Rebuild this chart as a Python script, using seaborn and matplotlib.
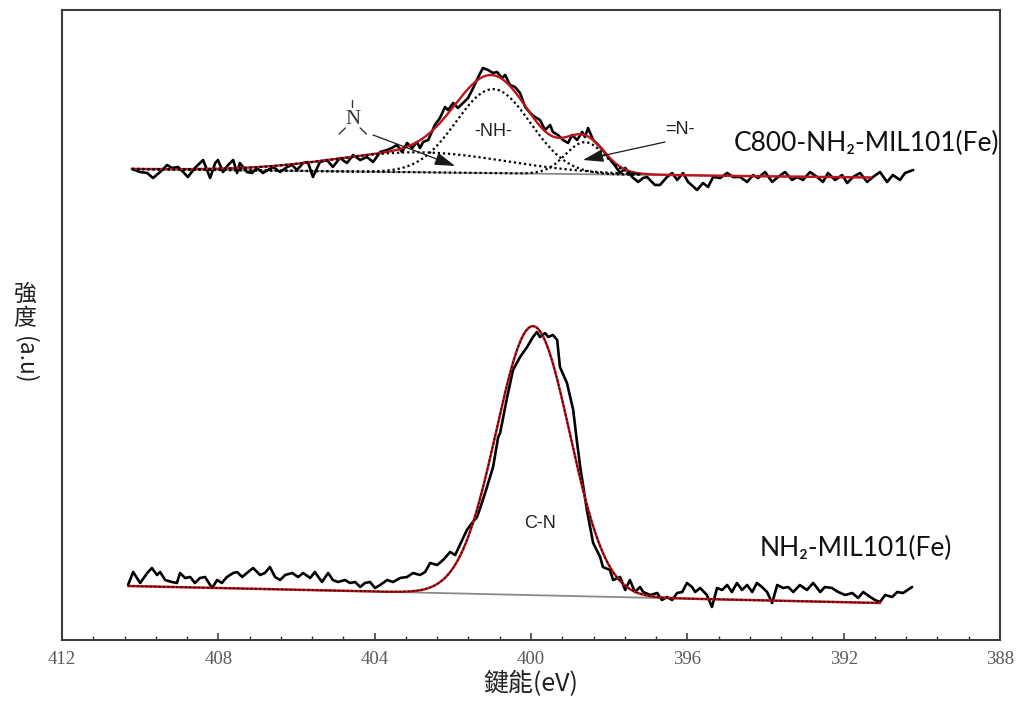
import numpy as np
import pandas as pd
import matplotlib
matplotlib.use("Agg")
import matplotlib.pyplot as plt
from matplotlib.ticker import MultipleLocator
import seaborn as sns

# ---- N 1s spectrum of C800-NH2-MIL101(Fe): binding energy (eV) / intensity (a.u.)
top_energy = [
    410.21, 410.00, 409.82, 409.67, 409.49, 409.31, 409.19, 409.03, 408.90, 408.78,
    408.60, 408.39, 408.21, 408.08, 408.01, 407.88, 407.75, 407.62, 407.52, 407.45,
    407.27, 407.14, 407.01, 406.86, 406.73, 406.60, 406.42, 406.24, 406.11, 405.99,
    405.83, 405.71, 405.58, 405.40, 405.22, 405.07, 404.89, 404.71, 404.55, 404.37,
    404.20, 404.04, 403.86, 403.68, 403.56, 403.43, 403.30, 403.17, 403.04, 402.92,
    402.84, 402.76, 402.63, 402.46, 402.33, 402.20, 402.12, 401.99, 401.87, 401.74,
    401.61, 401.48, 401.35, 401.23, 401.10, 400.97, 400.87, 400.74, 400.66, 400.54,
    400.41, 400.28, 400.15, 400.02, 399.90, 399.77, 399.64, 399.51, 399.44, 399.31,
    399.18, 399.05, 398.95, 398.82, 398.69, 398.62, 398.54, 398.41, 398.28, 398.16,
    398.03, 397.90, 397.72, 397.59, 397.41, 397.26, 397.13, 397.03, 396.83, 396.70,
    396.52, 396.39, 396.26, 396.11, 395.98, 395.75, 395.60, 395.47, 395.34, 395.16,
    394.98, 394.83, 394.65, 394.47, 394.32, 394.19, 394.01, 393.83, 393.68, 393.50,
    393.32, 393.19, 393.04, 392.86, 392.68, 392.53, 392.40, 392.22, 392.04, 391.91,
    391.76, 391.58, 391.40, 391.25, 391.07, 390.89, 390.74, 390.56, 390.43, 390.22,
]
top_counts = [
    471, 468, 467, 462, 468, 475, 472, 473, 468, 463,
    472, 480, 462, 477, 480, 468, 475, 480, 467, 477,
    468, 467, 472, 467, 470, 473, 468, 473, 475, 470,
    477, 478, 463, 478, 480, 473, 482, 477, 485, 480,
    483, 478, 488, 490, 492, 495, 488, 497, 492, 498,
    492, 498, 500, 515, 522, 533, 530, 537, 532, 537,
    542, 552, 563, 572, 570, 567, 568, 562, 565, 555,
    553, 547, 533, 527, 523, 520, 510, 515, 508, 505,
    500, 497, 505, 500, 508, 503, 512, 500, 495, 490,
    483, 477, 467, 472, 463, 458, 462, 463, 455, 455,
    463, 467, 460, 467, 458, 450, 457, 453, 463, 462,
    467, 463, 463, 458, 465, 462, 468, 458, 463, 468,
    460, 463, 460, 468, 463, 458, 467, 460, 465, 457,
    463, 467, 458, 463, 468, 458, 465, 460, 467, 470,
]

# ---- N 1s spectrum of NH2-MIL101(Fe)
bottom_energy = [
    410.31, 410.18, 410.00, 409.82, 409.70, 409.57, 409.49, 409.36, 409.19, 409.06,
    408.98, 408.85, 408.72, 408.60, 408.47, 408.34, 408.16, 408.03, 407.91, 407.78,
    407.62, 407.52, 407.39, 407.27, 407.11, 406.93, 406.81, 406.68, 406.55, 406.42,
    406.29, 406.11, 405.96, 405.83, 405.65, 405.53, 405.35, 405.19, 405.07, 404.94,
    404.76, 404.63, 404.50, 404.37, 404.25, 404.12, 403.99, 403.86, 403.68, 403.53,
    403.35, 403.17, 403.02, 402.84, 402.71, 402.58, 402.40, 402.25, 402.07, 401.94,
    401.82, 401.64, 401.51, 401.38, 401.30, 401.15, 400.97, 400.84, 400.79, 400.61,
    400.46, 400.28, 400.10, 399.95, 399.85, 399.77, 399.64, 399.56, 399.44, 399.33,
    399.26, 399.08, 398.92, 398.82, 398.74, 398.57, 398.41, 398.23, 398.16, 397.98,
    397.90, 397.72, 397.59, 397.47, 397.34, 397.21, 397.13, 396.95, 396.77, 396.65,
    396.52, 396.39, 396.26, 396.13, 396.01, 395.88, 395.80, 395.67, 395.50, 395.37,
    395.24, 395.11, 394.98, 394.86, 394.73, 394.60, 394.47, 394.34, 394.22, 394.09,
    393.96, 393.83, 393.70, 393.55, 393.42, 393.29, 393.12, 392.94, 392.78, 392.60,
    392.48, 392.30, 392.14, 391.96, 391.78, 391.63, 391.50, 391.32, 391.20, 391.07,
    390.94, 390.76, 390.63, 390.48, 390.25,
]
bottom_counts = [
    55, 68, 57, 67, 72, 65, 68, 60, 58, 57,
    67, 62, 63, 57, 62, 63, 52, 60, 57, 63,
    67, 68, 63, 67, 72, 65, 67, 73, 63, 60,
    65, 67, 63, 67, 62, 68, 58, 67, 60, 58,
    60, 57, 58, 53, 57, 58, 52, 55, 60, 58,
    62, 63, 67, 65, 68, 77, 75, 80, 88, 85,
    95, 110, 117, 123, 132, 150, 173, 203, 207, 243,
    270, 283, 293, 303, 308, 303, 307, 303, 305, 300,
    273, 257, 230, 197, 173, 130, 97, 83, 73, 70,
    60, 63, 50, 60, 48, 53, 48, 45, 47, 40,
    43, 40, 47, 48, 57, 53, 48, 52, 45, 33,
    52, 50, 55, 48, 57, 50, 55, 48, 57, 53,
    48, 37, 55, 52, 53, 48, 55, 50, 57, 48,
    53, 52, 48, 45, 47, 42, 48, 43, 40, 38,
    45, 43, 48, 47, 53,
]

# ---- peak-fit results: Gaussian components (centre eV, height, sigma eV)
top_centers = [402.84, 400.97, 398.62]
top_heights = [20.0, 84.0, 32.0]
top_sigmas = [2.2, 0.95, 0.5]
top_bg_energy = [410.21, 391.30]
top_bg_level = [471.0, 462.5]
top_component_end = 397.2

bottom_centers = [399.95]
bottom_heights = [269.0]
bottom_sigmas = [0.94]
bottom_bg_energy = [410.31, 391.07]
bottom_bg_level = [54.0, 37.0]

sample_labels = ["C800-NH\u2082-MIL101(Fe)", "NH\u2082-MIL101(Fe)"]
peak_labels = ["-NH-", "=N-", "C-N"]
x_label = "鍵能(eV)"
y_label_chars = ["強", "度"]
y_label_unit = "(a.u)"
x_ticks = [412, 408, 404, 400, 396, 392, 388]

sns.set_style("white")
plt.rcParams["font.family"] = ["Liberation Sans", "DejaVu Sans"]


def gaussian(e, c, h, s):
    return h * np.exp(-((e - c) ** 2) / (2.0 * s ** 2))


def background(e, be, bl):
    return np.interp(e, be[::-1], bl[::-1])


fig = plt.figure(figsize=(10.2, 7.02), dpi=100)
ax = fig.add_axes([62 / 1020, 1 - 640 / 702, 938 / 1020, 630 / 702])

red = "#c0141c"
grey = "#8a8a8a"
dotted = (0, (1.0, 1.3))

# ---- upper spectrum
e_fit = np.linspace(top_bg_energy[0], top_bg_energy[1], 600)
bg = background(e_fit, top_bg_energy, top_bg_level)
env = bg + sum(gaussian(e_fit, c, h, s) for c, h, s in zip(top_centers, top_heights, top_sigmas))
sns.lineplot(x=e_fit, y=bg, ax=ax, color=grey, linewidth=1.3, sort=False, estimator=None)
sns.lineplot(x=top_energy, y=top_counts, ax=ax, color="black", linewidth=1.9, sort=False, estimator=None)
sns.lineplot(x=e_fit, y=env, ax=ax, color=red, linewidth=1.7, sort=False, estimator=None)
e_comp = np.linspace(top_bg_energy[0], top_component_end, 400)
bg_comp = background(e_comp, top_bg_energy, top_bg_level)
for c, h, s in zip(top_centers, top_heights, top_sigmas):
    sns.lineplot(x=e_comp, y=bg_comp + gaussian(e_comp, c, h, s), ax=ax, color="black",
                 linewidth=1.6, linestyle=dotted, sort=False, estimator=None)

# ---- lower spectrum
e_fit_b = np.linspace(bottom_bg_energy[0], bottom_bg_energy[1], 600)
bg_b = background(e_fit_b, bottom_bg_energy, bottom_bg_level)
env_b = bg_b + sum(gaussian(e_fit_b, c, h, s) for c, h, s in zip(bottom_centers, bottom_heights, bottom_sigmas))
sns.lineplot(x=e_fit_b, y=bg_b, ax=ax, color=grey, linewidth=1.3, sort=False, estimator=None)
sns.lineplot(x=bottom_energy, y=bottom_counts, ax=ax, color="black", linewidth=1.9, sort=False, estimator=None)
sns.lineplot(x=e_fit_b, y=env_b, ax=ax, color=red, linewidth=1.8, sort=False, estimator=None)
for c, h, s in zip(bottom_centers, bottom_heights, bottom_sigmas):
    sns.lineplot(x=e_fit_b, y=bg_b + gaussian(e_fit_b, c, h, s), ax=ax, color="black",
                 linewidth=0.9, linestyle=(0, (1.5, 2.0)), sort=False, estimator=None)

# ---- axes
ax.set_xlim(412, 388)
ax.set_ylim(0, 630)
ax.set_xticks(x_ticks)
ax.xaxis.set_minor_locator(MultipleLocator(0.8))
ax.set_yticks([])
ax.tick_params(axis="x", which="major", direction="in", length=5, width=1.1, color="#333333",
               pad=8, labelsize=13.5, labelcolor="#5a5a5a", bottom=True)
ax.tick_params(axis="x", which="minor", direction="in", length=3, width=1.0, color="#333333", bottom=True)
for lab in ax.get_xticklabels():
    lab.set_family("Liberation Serif")
for sp in ax.spines.values():
    sp.set_color("#3c3c3c")
    sp.set_linewidth(1.5)
ax.set_xlabel(x_label, family=["Noto Sans CJK TC", "DejaVu Sans"], fontsize=18, labelpad=2, color="#222222")

# vertical y label
ylab_kw = dict(family=["Noto Sans CJK TC", "DejaVu Sans"], fontsize=16.5, color="#222222",
               ha="center", va="center")
fig.text(25 / 1020, 1 - 294 / 702, y_label_chars[0], **ylab_kw)
fig.text(25 / 1020, 1 - 319 / 702, y_label_chars[1], **ylab_kw)
fig.text(25 / 1020, 1 - 360 / 702, y_label_unit, rotation=-90, **ylab_kw)

# ---- sample names
ax.text(394.80, 497, sample_labels[0], family=["Lato", "DejaVu Sans"], fontsize=19,
        ha="left", va="center", color="#111111")
ax.text(394.14, 92, sample_labels[1], family=["Lato", "DejaVu Sans"], fontsize=19,
        ha="left", va="center", color="#111111")

# ---- peak assignments
ax.text(400.97, 509, peak_labels[0], fontsize=13, ha="center", va="center", color="#222222")
ax.text(396.19, 510, peak_labels[1], fontsize=13, ha="center", va="center", color="#222222")
ax.text(399.77, 117, peak_labels[2], fontsize=13, ha="center", va="center", color="#222222")

# graphitic N drawn as a small structure
ax.text(404.55, 521, "N", family="Liberation Serif", fontsize=15, ha="center", va="center", color="#333333")
bond_kw = dict(color="#333333", linewidth=1.0)
ax.plot([404.58, 404.58], [540, 533], **bond_kw)
ax.plot([404.91, 404.75], [506, 512], **bond_kw)
ax.plot([404.37, 404.21], [512, 506], **bond_kw)

arrow_kw = dict(arrowstyle="-|>,head_length=0.9,head_width=0.28", color="#1a1a1a",
                lw=0.9, shrinkA=0, shrinkB=0, mutation_scale=14)
ax.annotate("", xy=(401.94, 474), xytext=(404.04, 505), arrowprops=arrow_kw)
ax.annotate("", xy=(398.67, 480), xytext=(396.57, 498), arrowprops=arrow_kw)

fig.savefig("out.png", dpi=100, facecolor="white")
